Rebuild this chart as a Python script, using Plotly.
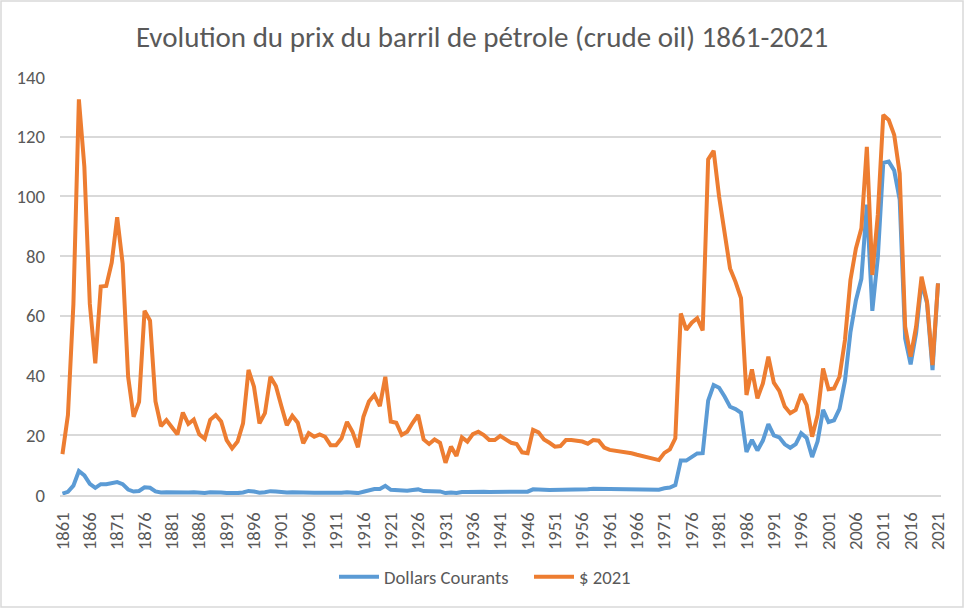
import plotly.graph_objects as go

years = list(range(1861, 2022))

# Dollars courants (money of the day), US$/bbl
dollars_courants = [
    0.49, 1.05, 3.15, 8.06, 6.59, 3.74, 2.41, 3.63, 3.64, 3.86,   # 1861-1870
    4.34, 3.64, 1.83, 1.17, 1.35, 2.56, 2.42, 1.19, 0.86, 0.95,   # 1871-1880
    0.86, 0.78, 1.00, 0.84, 0.88, 0.71, 0.67, 0.88, 0.94, 0.87,   # 1881-1890
    0.67, 0.56, 0.64, 0.84, 1.36, 1.18, 0.79, 0.91, 1.29, 1.19,   # 1891-1900
    0.96, 0.80, 0.94, 0.86, 0.62, 0.73, 0.72, 0.72, 0.70, 0.61,   # 1901-1910
    0.61, 0.74, 0.95, 0.81, 0.64, 1.10, 1.56, 1.98, 2.01, 3.07,   # 1911-1920
    1.73, 1.61, 1.34, 1.43, 1.68, 1.88, 1.30, 1.17, 1.27, 1.19,   # 1921-1930
    0.65, 0.87, 0.67, 1.00, 0.97, 1.09, 1.18, 1.13, 1.02, 1.02,   # 1931-1940
    1.14, 1.19, 1.20, 1.21, 1.05, 1.12, 1.90, 1.99, 1.78, 1.71,   # 1941-1950
    1.71, 1.71, 1.93, 1.93, 1.93, 1.93, 1.90, 2.08, 2.08, 1.90,   # 1951-1960
    1.80, 1.80, 1.80, 1.80, 1.80, 1.80, 1.80, 1.80, 1.80, 1.80,   # 1961-1970
    2.24, 2.48, 3.29, 11.58, 11.53, 12.80, 13.92, 14.02, 31.61, 36.83,  # 1971-1980
    35.93, 32.97, 29.55, 28.78, 27.56, 14.43, 18.44, 14.92, 18.23, 23.73,  # 1981-1990
    20.00, 19.32, 16.97, 15.82, 17.02, 20.67, 19.09, 12.72, 17.97, 28.50,  # 1991-2000
    24.44, 25.02, 28.83, 38.27, 54.52, 65.14, 72.39, 97.26, 61.67, 79.50,  # 2001-2010
    111.26, 111.67, 108.66, 98.95, 52.39, 43.73, 54.19, 71.31, 64.21, 41.84,  # 2011-2020
    70.91,                                                          # 2021
]

# Dollars constants 2021, US$/bbl
dollars_2021 = [
    13.7, 26.8, 64.0, 132.5, 110.0, 64.0, 44.1, 69.8, 70.0, 77.8,   # 1861-1870
    93.0, 77.5, 39.6, 26.2, 31.2, 61.7, 58.4, 31.3, 23.1, 25.1,     # 1871-1880
    22.7, 20.3, 27.6, 23.8, 25.3, 20.3, 18.8, 25.2, 26.8, 24.6,     # 1881-1890
    18.4, 15.6, 17.9, 24.0, 41.9, 36.3, 24.0, 27.4, 39.6, 36.5,     # 1891-1900
    29.8, 23.4, 26.5, 24.2, 17.3, 20.7, 19.5, 20.3, 19.5, 16.7,     # 1901-1910
    16.7, 19.0, 24.5, 21.2, 16.0, 26.2, 31.3, 33.5, 29.8, 39.6,     # 1911-1920
    24.6, 24.2, 20.1, 21.2, 24.2, 26.8, 18.6, 17.1, 18.6, 17.5,     # 1921-1930
    10.8, 16.2, 13.1, 19.3, 17.9, 20.4, 21.2, 20.1, 18.4, 18.4,     # 1931-1940
    19.8, 18.6, 17.5, 17.1, 14.3, 14.0, 21.8, 21.0, 18.6, 17.5,     # 1941-1950
    16.2, 16.4, 18.4, 18.4, 18.2, 17.9, 17.2, 18.4, 18.2, 15.9,     # 1951-1960
    15.1, 14.9, 14.6, 14.3, 14.0, 13.5, 13.1, 12.7, 12.3, 11.7,     # 1961-1970
    14.1, 15.3, 19.0, 60.8, 55.3, 57.7, 59.2, 55.1, 112.4, 115.3,   # 1971-1980
    99.9, 88.2, 75.9, 71.4, 65.9, 33.5, 42.1, 32.4, 37.4, 46.3,     # 1981-1990
    37.6, 34.9, 29.6, 27.4, 28.5, 33.8, 30.1, 19.5, 26.8, 42.4,     # 1991-2000
    35.4, 35.7, 39.6, 51.9, 72.0, 82.6, 89.3, 116.6, 73.7, 93.8,    # 2001-2010
    127.3, 125.6, 120.6, 107.7, 56.4, 46.3, 56.4, 73.1, 64.7, 43.5, # 2011-2020
    70.9,                                                            # 2021
]

x_tick_years = list(range(1861, 2022, 5))
y_ticks = [0, 20, 40, 60, 80, 100, 120, 140]

series_names = ["Dollars Courants", "$ 2021"]
series_colors = ["#5B9BD5", "#ED7D31"]

assert len(dollars_courants) == len(years) == len(dollars_2021)

FONT = "Carlito, Calibri, Lato, sans-serif"
GREY = "#595959"

fig = go.Figure()
for name, vals, col in zip(series_names, [dollars_courants, dollars_2021], series_colors):
    fig.add_trace(go.Scatter(
        x=years, y=vals, mode="lines", name=name,
        line=dict(color=col, width=4, shape="linear"),
        hoverinfo="x+y+name",
    ))

W, H = 964, 608
ml, mr, mt, mb = 60, 23, 77, 113
pw, ph = W - ml - mr, H - mt - mb

fig.update_layout(
    width=W, height=H, autosize=False,
    margin=dict(l=ml, r=mr, t=mt, b=mb, pad=0),
    paper_bgcolor="white", plot_bgcolor="white",
    font=dict(family=FONT, color=GREY, size=18.7),
    title=dict(
        text="Evolution du prix du barril de pétrole (crude oil) 1861-2021",
        x=0.5, xanchor="center", y=1 - 37 / H, yanchor="middle",
        font=dict(family=FONT, size=29, color=GREY),
    ),
    xaxis=dict(
        range=[1860.55, 2021.55],
        tickmode="array", tickvals=x_tick_years,
        ticktext=[str(y) for y in x_tick_years],
        tickangle=-90, showgrid=False, zeroline=False,
        showline=True, linecolor="#D9D9D9", linewidth=1.5,
        ticks="", ticklabelstandoff=8,
        tickfont=dict(family=FONT, size=18.7, color=GREY),
    ),
    yaxis=dict(
        range=[0, 140], tickmode="array", tickvals=y_ticks,
        showgrid=True, gridcolor="#D9D9D9", gridwidth=1.5,
        zeroline=False, showline=False, ticks="",
        ticklabelstandoff=14,
        tickfont=dict(family=FONT, size=18.7, color=GREY),
    ),
    legend=dict(
        orientation="h", x=(529 - ml) / pw, xanchor="center",
        y=(495 - 577) / ph, yanchor="middle",
        font=dict(family=FONT, size=18.7, color=GREY),
        itemwidth=40, entrywidth=140, traceorder="normal",
        bgcolor="rgba(0,0,0,0)",
    ),
    shapes=[dict(
        type="rect", xref="paper", yref="paper",
        x0=(1 - ml) / pw, x1=(W - 1 - ml) / pw,
        y0=(ph + mt - 1) / ph - (H - 2) / ph, y1=(ph + mt - 1) / ph,
        line=dict(color="#D9D9D9", width=1.5), fillcolor="rgba(0,0,0,0)",
        layer="below",
    )],
)

fig.write_html(
    "out.html",
    config={"displayModeBar": False},
    post_script="document.body.style.margin='0';document.body.style.overflow='hidden';",
)
